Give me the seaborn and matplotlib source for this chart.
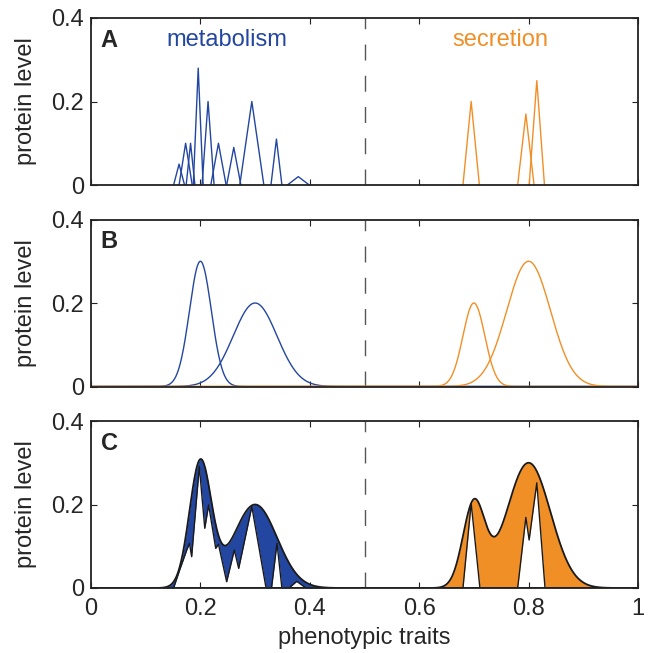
import numpy as np
import pandas as pd
import seaborn as sns
import matplotlib.pyplot as plt

sns.set_style("ticks")
plt.rcParams['font.family'] = ['Liberation Sans', 'DejaVu Sans']

BLUE = "#2346a0"
ORANGE = "#f18f27"
FS = 17

# panel A: individual proteins (position, level, half width of spike)
met_pos = [0.161, 0.173, 0.182, 0.196, 0.214, 0.233, 0.261, 0.294, 0.339, 0.379]
met_lvl = [0.05, 0.10, 0.10, 0.28, 0.20, 0.10, 0.09, 0.20, 0.11, 0.02]
met_hw = [0.010, 0.012, 0.008, 0.009, 0.011, 0.014, 0.013, 0.022, 0.010, 0.020]
sec_pos = [0.695, 0.795, 0.815]
sec_lvl = [0.20, 0.17, 0.25]
sec_hw = [0.015, 0.015, 0.014]

# panel B: smooth distributions (mean, peak level, sd)
met_mu = [0.2, 0.3]
met_peak = [0.3, 0.2]
met_sd = [0.02, 0.04]
sec_mu = [0.7, 0.8]
sec_peak = [0.2, 0.3]
sec_sd = [0.02, 0.04]

# panel C: lower edge of the coverage fill
met_low_x = [0.10, 0.151, 0.162, 0.175, 0.180, 0.184, 0.198, 0.208, 0.215, 0.228,
             0.233, 0.248, 0.262, 0.270, 0.294, 0.320, 0.330, 0.340, 0.349, 0.362,
             0.376, 0.393, 0.45]
met_low_y = [0, 0, 0.043, 0.091, 0.107, 0.075, 0.291, 0.143, 0.199, 0.095,
             0.105, 0.015, 0.091, 0.047, 0.195, 0, 0, 0.107, 0, 0,
             0.016, 0, 0]
sec_low_x = [0.60, 0.680, 0.695, 0.711, 0.780, 0.795, 0.801, 0.815, 0.830, 0.95]
sec_low_y = [0, 0, 0.203, 0, 0, 0.169, 0.115, 0.252, 0, 0]

x = np.linspace(0, 1, 1001)


def spikes(pos, lvl, hw):
    rows = []
    for i, (p, h, w) in enumerate(zip(pos, lvl, hw)):
        rows += [(i, p - w, 0), (i, p, h), (i, p + w, 0)]
    return pd.DataFrame(rows, columns=["unit", "x", "y"])


def bumps(mu, peak, sd):
    rows = []
    for i, (m, h, s) in enumerate(zip(mu, peak, sd)):
        y = h * np.exp(-0.5 * ((x - m) / s) ** 2)
        rows.append(pd.DataFrame({"unit": i, "x": x, "y": y}))
    return pd.concat(rows)


fig = plt.figure(figsize=(6.49, 6.53), dpi=100)
tops = [18, 219.5, 421]
axes = []
for t in tops:
    ax = fig.add_axes([91 / 649, 1 - (t + 167) / 653, 547 / 649, 167 / 653])
    axes.append(ax)

for ax, lab in zip(axes, "ABC"):
    ax.set_xlim(0, 1)
    ax.set_ylim(0, 0.4)
    ax.set_xticks([0, 0.2, 0.4, 0.6, 0.8, 1])
    ax.set_yticks([0, 0.2, 0.4])
    ax.set_yticklabels(["0", "0.2", "0.4"])
    ax.tick_params(direction="in", length=4, width=0.8, top=True, right=True,
                   labelsize=FS, pad=5, color="#222222")
    for s in ax.spines.values():
        s.set_linewidth(1.3)
        s.set_color("#222222")
    ax.axvline(0.5, color="#555555", lw=1.0, ls=(0, (11.5, 11)), zorder=0)
    ax.text(0.018, 0.347, lab, fontsize=FS, fontweight="bold", va="center")

# A
sns.lineplot(data=spikes(met_pos, met_lvl, met_hw), x="x", y="y", units="unit",
             estimator=None, color=BLUE, lw=1.0, ax=axes[0])
sns.lineplot(data=spikes(sec_pos, sec_lvl, sec_hw), x="x", y="y", units="unit",
             estimator=None, color=ORANGE, lw=1.0, ax=axes[0])
axes[0].text(0.249, 0.347, "metabolism", color=BLUE, fontsize=FS, ha="center", va="center")
axes[0].text(0.749, 0.347, "secretion", color=ORANGE, fontsize=FS, ha="center", va="center")

# B
sns.lineplot(data=bumps(met_mu, met_peak, met_sd), x="x", y="y", units="unit",
             estimator=None, color=BLUE, lw=1.0, ax=axes[1])
sns.lineplot(data=bumps(sec_mu, sec_peak, sec_sd), x="x", y="y", units="unit",
             estimator=None, color=ORANGE, lw=1.0, ax=axes[1])

# C
ax = axes[2]
for mu, pk, sd, lx, ly, col in [(met_mu, met_peak, met_sd, met_low_x, met_low_y, BLUE),
                                (sec_mu, sec_peak, sec_sd, sec_low_x, sec_low_y, ORANGE)]:
    env = bumps(mu, pk, sd).groupby("x", sort=True)["y"].sum()
    low = np.interp(env.index, lx, ly)
    ax.fill_between(env.index, np.minimum(low, env.values), env.values, color=col, lw=0)
    sns.lineplot(x=env.index, y=env.values, color="#1a1a1a", lw=1.3, ax=ax)
    sns.lineplot(x=lx, y=np.minimum(ly, np.interp(lx, env.index, env.values)),
                 color="#1a1a1a", lw=1.0, ax=ax)

for ax in axes[:2]:
    ax.set_xlabel("")
    ax.set_xticklabels([])
for ax in axes:
    ax.set_ylabel("protein level", fontsize=FS)
    ax.yaxis.set_label_coords(-0.098, 0.5)
axes[2].set_xticklabels(["0", "0.2", "0.4", "0.6", "0.8", "1"])
axes[2].tick_params(axis="x", pad=7)
axes[2].set_xlabel("phenotypic traits", fontsize=FS)
axes[2].xaxis.set_label_coords(0.5, -0.235)

fig.savefig("out.png", dpi=100)
